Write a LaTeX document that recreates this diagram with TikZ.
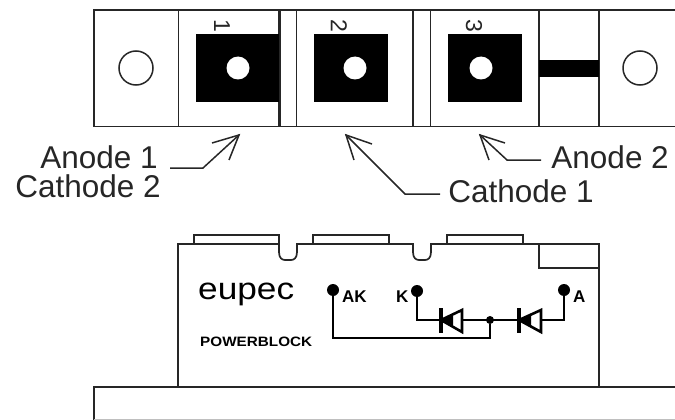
\documentclass[tikz,border=0pt]{standalone}
\usepackage{fontspec}
\usepackage{graphicx}
\setmainfont{Liberation Sans}
\tikzset{
  x=1pt,y=-1pt,
  frame/.style={line width=1.7pt,draw=black!85},
  thick frame/.style={line width=2.6pt,draw=black!85},
  ptr/.style={line width=1.5pt,draw=black!85,line join=miter},
  wire/.style={line width=2.6pt,draw=black,line join=miter},
  lbl/.style={font=\fontsize{31.5}{31.5}\selectfont,text=black!85,inner sep=0pt,anchor=base east},
  pin/.style={circle,fill=black,inner sep=0pt,minimum size=12pt},
  num/.style={font=\fontsize{23}{23}\selectfont,rotate=-90,inner sep=0pt,text=black!85},
  pad/.style={fill=black,draw=none},
  hole/.style={circle,fill=white,inner sep=0pt,minimum size=23pt},
  ring/.style={circle,draw=black!85,line width=1.5pt,fill=white,inner sep=0pt,minimum size=34pt},
  mini/.style={font=\fontsize{17}{17}\selectfont\bfseries,inner sep=0pt,anchor=base west},
  diode/.style={line width=2.6pt,draw=black,fill=white,line join=miter},
}
\begin{document}
\begin{tikzpicture}
\useasboundingbox (0,0) rectangle (675,420);
% top view
\draw[frame] (675,10) -- (94,10) -- (94,126.5) -- (675,126.5);
\draw[frame] (178.5,10) -- (178.5,126.5);
\draw[thick frame] (279.5,10) -- (279.5,126.5);
\draw[frame] (296.5,10) -- (296.5,126.5);
\draw[thick frame] (413,10) -- (413,126.5);
\draw[frame] (430.5,10) -- (430.5,126.5);
\draw[frame] (539,10) -- (539,126.5);
\draw[frame] (599,10) -- (599,126.5);
\node[ring] (c1) at (136,68) {};
\node[ring] (c2) at (640,68) {};
\fill[pad] (196,34) rectangle (279,101.5);
\fill[pad] (313.5,34) rectangle (387.5,101.5);
\fill[pad] (448,34) rectangle (522,101.5);
\fill[pad] (539,60) rectangle (599,77);
\node[hole] (h1) at (238,68) {};
\node[hole] (h2) at (355,68) {};
\node[hole] (h3) at (481,68) {};
\node[num] (n1) at (222,26) {1};
\node[num] (n2) at (339,26) {2};
\node[num] (n3) at (474,26) {3};
% labels
\node[lbl] (a1) at (158,168) {Anode 1};
\node[lbl] (c2t) at (161,197) {Cathode 2};
\node[lbl] (k1) at (594,202) {Cathode 1};
\node[lbl] (a2) at (669,168) {Anode 2};
% pointers
\coordinate (t1) at (239,135);
\coordinate (t2) at (346,135);
\coordinate (t3) at (480,135);
\draw[ptr] (a1.base east) ++(12,0) -- (203,168) -- (t1);
\draw[ptr] (212,143) -- (t1) -- (229,160);
\draw[ptr] (k1.base west) ++(-8,-8) -- (405,194) -- (t2);
\draw[ptr] (372,144) -- (t2) -- (354,160);
\draw[ptr] (a2.base west) ++(-10,-8) -- (507,160) -- (t3);
\draw[ptr] (505,143) -- (t3) -- (489,160);
% side view
\draw[frame] (94,420) -- (94,387) -- (675,387);
\draw[line width=1pt,draw=black!25] (94,419) -- (675,419);
\draw[frame] (178,387) -- (178,244) -- (194,244) -- (194,235) -- (279,235) -- (279,252)
  .. controls (279,258) and (282,260) .. (285,260) -- (291,260)
  .. controls (294,260) and (297,258) .. (297,252) -- (297,244) -- (313,244) -- (313,235)
  -- (389,235) -- (389,244) -- (413,244) -- (413,252)
  .. controls (413,258) and (416,260) .. (419,260) -- (425,260)
  .. controls (428,260) and (431,258) .. (431,252) -- (431,244) -- (447,244) -- (447,235)
  -- (523,235) -- (523,244) -- (599,244) -- (599,387);
\draw[frame] (194,244) -- (279,244);
\draw[frame] (313,244) -- (389,244);
\draw[frame] (447,244) -- (523,244);
\draw[frame] (539,244) -- (539,268) -- (599,268);
% logo
\node[inner sep=0pt,anchor=base west] (logo) at (198,299) {\resizebox{96pt}{16.5pt}{\fontsize{24}{24}\selectfont eupec}};
\node[inner sep=0pt,anchor=base west] (pb) at (200,346) {\resizebox{112pt}{9.5pt}{\fontsize{10}{10}\selectfont\bfseries POWERBLOCK}};
% circuit
\node[pin] (ak) at (333,290) {};
\node[pin] (k) at (417,291) {};
\node[pin] (an) at (564,290) {};
\node[circle,fill=black,inner sep=0pt,minimum size=8pt] (mid) at (490,320) {};
\node[mini] (akt) at (342,302) {AK};
\node[mini] (kt) at (396,302) {K};
\node[mini] (at) at (573,302) {A};
\draw[wire] (ak) -- (333,338) -- (490,338) -- (mid);
\draw[wire] (k) -- (417,320) -- (564,320) -- (an);
\draw[diode] (441,320) -- (462,310) -- (462,332) -- cycle;
\draw[diode] (519,320) -- (541,310) -- (541,332) -- cycle;
\draw[line width=4pt] (441,308) -- (441,333);
\draw[line width=4pt] (519,308) -- (519,333);
\fill (441,320) -- (453,314) -- (453,326) -- cycle;
\fill (519,320) -- (531,314) -- (531,326) -- cycle;
\end{tikzpicture}
\end{document}
